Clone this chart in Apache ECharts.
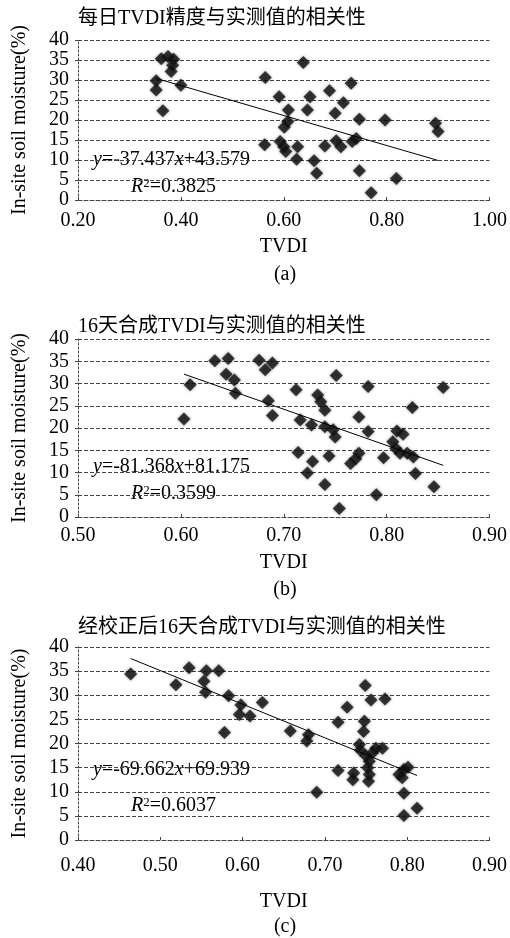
<!DOCTYPE html>
<html>
<head>
<meta charset="utf-8">
<script src="https://cdn.jsdelivr.net/npm/echarts@6/dist/echarts.min.js"></script>
<style>
  html, body { margin: 0; padding: 0; background: #fff; }
  #chart { width: 510px; height: 938px; }
</style>
</head>
<body>
<div id="chart"></div>
<script>
// (a) 每日TVDI
const tvdiA = [0.362, 0.375, 0.386, 0.384, 0.381, 0.352, 0.352, 0.400, 0.365,
  0.638, 0.564, 0.591, 0.651, 0.689, 0.731, 0.716, 0.609, 0.646, 0.700, 0.747,
  0.797, 0.895, 0.900, 0.608, 0.601, 0.563, 0.593, 0.600, 0.604, 0.627, 0.625,
  0.659, 0.664, 0.680, 0.702, 0.711, 0.733, 0.741, 0.747, 0.819, 0.770];
const soilA = [35.3, 35.9, 35.2, 33.7, 32.1, 29.8, 27.5, 28.7, 22.3,
  34.4, 30.6, 25.8, 25.8, 27.3, 29.2, 24.3, 22.5, 22.5, 21.7, 20.2,
  20.0, 19.2, 17.1, 19.6, 18.2, 13.8, 14.6, 13.3, 12.1, 13.3, 10.2,
  9.8, 6.7, 13.5, 14.8, 13.3, 14.6, 15.4, 7.3, 5.4, 1.8];

// (b) 16天合成TVDI
const tvdiB = [0.603, 0.609, 0.633, 0.646, 0.644, 0.652, 0.653, 0.676, 0.682, 0.689,
  0.685, 0.689, 0.712, 0.716, 0.727, 0.733, 0.736, 0.740, 0.740, 0.748,
  0.750, 0.751, 0.782, 0.855, 0.825, 0.773, 0.782, 0.810, 0.816, 0.806,
  0.809, 0.813, 0.820, 0.826, 0.744, 0.765, 0.770, 0.773, 0.797, 0.828,
  0.846, 0.740, 0.790, 0.754, 0.714, 0.728, 0.723];
const soilB = [22.0, 29.7, 35.1, 35.6, 32.1, 30.8, 27.8, 35.2, 33.1, 34.6,
  26.1, 22.8, 28.6, 21.8, 20.7, 27.4, 25.9, 24.0, 20.3, 19.6,
  18.0, 31.8, 29.3, 29.1, 24.6, 22.5, 19.2, 19.3, 18.6, 16.9,
  15.4, 14.3, 14.3, 13.5, 13.7, 12.0, 13.1, 14.3, 13.3, 9.8,
  6.8, 7.3, 5.0, 1.9, 14.5, 12.5, 9.9];

// (c) 经校正后16天合成TVDI
const tvdiC = [0.464, 0.535, 0.556, 0.553, 0.555, 0.571, 0.519, 0.583, 0.598, 0.596,
  0.609, 0.624, 0.578, 0.658, 0.680, 0.678, 0.690, 0.727, 0.716, 0.749,
  0.756, 0.773, 0.748, 0.747, 0.742, 0.743, 0.750, 0.762, 0.770, 0.758,
  0.754, 0.752, 0.754, 0.753, 0.716, 0.735, 0.734, 0.790, 0.796, 0.801,
  0.794, 0.796, 0.796, 0.812];
const soilC = [34.4, 35.7, 35.1, 32.9, 30.6, 35.1, 32.2, 29.9, 28.0, 26.0,
  25.7, 28.5, 22.3, 22.6, 21.8, 20.5, 9.9, 27.5, 24.4, 32.0,
  29.0, 29.2, 24.6, 22.5, 19.8, 18.6, 17.4, 19.0, 19.0, 18.1,
  16.3, 15.0, 13.6, 12.2, 14.4, 13.9, 12.5, 13.6, 14.6, 15.1,
  12.9, 9.7, 5.1, 6.6];

const panelTitles = ['每日TVDI精度与实测值的相关性', '16天合成TVDI与实测值的相关性', '经校正后16天合成TVDI与实测值的相关性'];
const captions = ['(a)', '(b)', '(c)'];
const fitSlope = [-37.437, -81.368, -69.662];
const fitIntercept = [43.579, 81.175, 69.939];
const fitR2 = ['0.3825', '0.3599', '0.6037'];
const xTicksA = [0.20, 0.40, 0.60, 0.80, 1.00];
const xTicksB = [0.50, 0.60, 0.70, 0.80, 0.90];
const xTicksC = [0.40, 0.50, 0.60, 0.70, 0.80, 0.90];
const yTicks = [0, 5, 10, 15, 20, 25, 30, 35, 40];

const tvdi = [tvdiA, tvdiB, tvdiC];
const soil = [soilA, soilB, soilC];
const xTicks = [xTicksA, xTicksB, xTicksC];

// 版面位置
const layout = [
  { top: 40, height: 160, titleY: 19, capY: 275, eqY: 160, r2Y: 187, xNameGap: 37, xMargin: 11 },
  { top: 339, height: 178, titleY: 327, capY: 590, eqY: 467, r2Y: 494, xNameGap: 36, xMargin: 9 },
  { top: 647, height: 193, titleY: 628, capY: 927, eqY: 770, r2Y: 806, xNameGap: 52, xMargin: 16 }
];

const serif = '"Liberation Serif"';
const ink = '#000';
const dash = '#444';
const tStyle = { fontFamily: serif, fontSize: 20, color: ink };

const grids = [], xAxes = [], yAxes = [], series = [], graphics = [];

layout.forEach((p, i) => {
  grids.push({ left: 78, width: 415, top: p.top, height: p.height });
  const xt = xTicks[i];
  xAxes.push({
    gridIndex: i, type: 'value',
    min: xt[0], max: xt[xt.length - 1], interval: xt[1] - xt[0],
    name: 'TVDI', nameLocation: 'middle', nameGap: p.xNameGap, nameTextStyle: tStyle,
    axisLine: { show: true, lineStyle: { color: dash, width: 1, type: [4, 2] } },
    axisTick: { show: true, inside: true, length: 3, lineStyle: { color: dash } },
    axisLabel: Object.assign({ margin: p.xMargin, formatter: v => v.toFixed(2) }, tStyle),
    splitLine: { show: false }
  });
  yAxes.push({
    gridIndex: i, type: 'value',
    min: yTicks[0], max: yTicks[yTicks.length - 1], interval: yTicks[1] - yTicks[0],
    name: 'In-site soil moisture(%)', nameLocation: 'middle', nameGap: 48, nameTextStyle: tStyle,
    axisLine: { show: true, lineStyle: { color: dash, width: 1, type: [2, 2] } },
    axisTick: { show: true, length: 3, lineStyle: { color: dash } },
    axisLabel: Object.assign({ margin: 9 }, tStyle),
    splitLine: { show: true, lineStyle: { color: dash, width: 1, type: [4, 2] } }
  });

  series.push({
    type: 'scatter', xAxisIndex: i, yAxisIndex: i,
    data: tvdi[i].map((x, k) => [x, soil[i][k]]),
    symbol: 'diamond', symbolSize: 13,
    itemStyle: { color: '#111', shadowBlur: 3, shadowColor: 'rgba(0,0,0,0.55)' },
    z: 2
  });
  const x0 = Math.min(...tvdi[i]), x1 = Math.max(...tvdi[i]);
  series.push({
    type: 'line', xAxisIndex: i, yAxisIndex: i,
    data: [[x0, fitSlope[i] * x0 + fitIntercept[i]], [x1, fitSlope[i] * x1 + fitIntercept[i]]],
    symbol: 'none', lineStyle: { color: ink, width: 1 }, z: 3
  });

  const rich = {
    n: { fontFamily: serif, fontSize: 20, fill: ink, color: ink },
    i: { fontFamily: serif, fontSize: 20, fontStyle: 'italic', fill: ink, color: ink },
    s: { fontFamily: serif, fontSize: 13, fill: ink, color: ink, verticalAlign: 'top' }
  };
  const num = v => Math.abs(v).toFixed(3);
  graphics.push(
    { type: 'text', style: { x: 78, y: p.titleY, text: panelTitles[i], font: '20px ' + serif + ', "Noto Sans CJK SC"', fill: ink, verticalAlign: 'middle', textVerticalAlign: 'middle' } },
    { type: 'text', style: { x: 285, y: p.capY, text: captions[i], font: '20px ' + serif, fill: ink, align: 'center', textAlign: 'center', verticalAlign: 'middle', textVerticalAlign: 'middle' } },
    { type: 'text', style: { x: 93, y: p.eqY, text: '{i|y}{n|=-' + num(fitSlope[i]) + '}{i|x}{n|+' + num(fitIntercept[i]) + '}', rich: rich, verticalAlign: 'middle', textVerticalAlign: 'middle' } },
    { type: 'text', style: { x: 131, y: p.r2Y, text: '{i|R}{s|2}{n|=' + fitR2[i] + '}', rich: rich, verticalAlign: 'middle', textVerticalAlign: 'middle' } }
  );
});

const chart = echarts.init(document.getElementById('chart'));
chart.setOption({
  animation: false,
  backgroundColor: '#fff',
  grid: grids,
  xAxis: xAxes,
  yAxis: yAxes,
  series: series,
  graphic: graphics
});
</script>
</body>
</html>
